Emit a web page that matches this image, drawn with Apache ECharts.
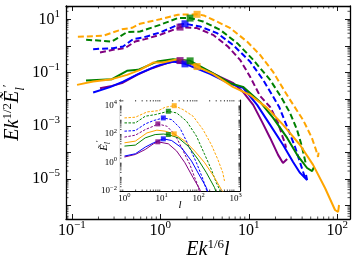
<!DOCTYPE html>
<html><head><meta charset="utf-8">
<script src="https://cdn.jsdelivr.net/npm/echarts@6/dist/echarts.min.js"></script>
<style>html,body{margin:0;padding:0;background:#fff}#c{width:357px;height:265px}</style>
</head><body><div id="c"></div>
<script>
// ---------- main panel data: x = E k^{1/6} l, y = E k^{1/2} E~'_l ----------
const mainOrangeDashed = [[0.117,2.2],[0.225,2.4],[0.369,4.2],[0.479,4.8],[0.59,6.8],[0.99,10],[1.58,14.9],[2.6,15.4],[3.1,14],[3.94,9.6],[6.1,4.8],[9.6,1.43],[13.4,0.46],[18.8,0.106],[27.8,0.0122],[41,0.00166],[51.6,3.5e-4],[57.4,1.24e-4],[60.5,6.8e-5],[62,1.24e-4]];
const mainGreenDashed = [[0.145,1.70],[0.225,1.56],[0.284,1.46],[0.42,3.3],[0.59,3.48],[0.99,6.2],[1.58,11.1],[2.17,11.1],[3.03,8.3],[4.73,4.03],[7.4,1.27],[11.2,0.30],[17.4,0.053],[23.1,0.0122],[29.2,0.00305],[35.1,7.0e-4],[39.9,1.6e-4],[44.3,3.4e-5]];
const mainBlueDashed = [[0.174,0.758],[0.292,0.826],[0.379,0.949],[0.492,1.80],[0.638,2.07],[0.99,3.19],[1.58,6.2],[1.90,6.8],[2.81,5.36],[4.37,3.03],[6.6,1.10],[10.3,0.26],[14.5,0.053],[18.8,0.0125],[22.0,0.0051],[27.1,9.1e-4],[33.3,1.6e-4],[38,4.1e-5],[43.2,1.1e-5]];
const mainPurpleDashed = [[0.208,0.565],[0.292,0.713],[0.399,0.826],[0.518,1.46],[0.671,1.80],[0.99,2.61],[1.58,4.67],[1.67,5.09],[2.6,4.67],[3.94,2.61],[5.8,0.95],[7.96,0.30],[10.3,0.071],[13.4,0.0131],[17.4,0.0051],[21.4,0.00128],[24.3,3.5e-4],[25.6,2.3e-4],[26.3,1.5e-4]];
const mainOrangeSolid = [[0.1145,0.0345],[0.174,0.0459],[0.284,0.0565],[0.42,0.082],[0.59,0.1265],[0.828,0.238],[1.07,0.238],[1.58,0.319],[2.17,0.232],[2.6,0.168],[3.94,0.0893],[6.6,0.029],[10.3,0.0145],[16.1,0.00471],[24.4,0.00108],[37.9,1.9e-4],[53.2,3.4e-5],[72.6,4.6e-6],[94.2,6.9e-7],[102,5.8e-7],[104.5,1.06e-6]];
const mainGreenSolid = [[0.1445,0.050],[0.284,0.0565],[0.42,0.116],[0.56,0.1265],[0.918,0.259],[1.39,0.319],[2.17,0.275],[3.64,0.109],[6.14,0.040],[8.6,0.029],[13.4,0.0079],[18.8,0.00198],[27.1,3.5e-4],[35.1,8.1e-5],[45.5,2.6e-5],[51.9,2.0e-5],[54.6,2.85e-5]];
const mainBlueSolid = [[0.174,0.0177],[0.270,0.0283],[0.379,0.0459],[0.59,0.0949],[0.918,0.1786],[1.39,0.259],[1.90,0.212],[3.64,0.0893],[6.14,0.0376],[8.6,0.0266],[12.4,0.0061],[17.4,0.00108],[24.4,1.9e-4],[31.6,4.4e-5],[37.9,1.7e-5],[45.5,9.2e-6],[44.3,1.43e-5]];
const mainPurpleSolid = [[0.208,0.0259],[0.284,0.0316],[0.369,0.040],[0.545,0.082],[0.806,0.146],[1.19,0.226],[1.67,0.282],[2.81,0.164],[4.73,0.0689],[6.6,0.041],[8.6,0.0188],[11.2,0.0061],[14.1,0.0014],[17.4,3.5e-4],[21.4,8.1e-5],[24.3,4.0e-5],[27.1,5.7e-5]];
// peak markers (main)
const mainMarkOrange = [[2.6,15.4],[2.6,0.168]];
const mainMarkGreen  = [[2.17,11.1],[2.17,0.275]];
const mainMarkBlue   = [[1.90,6.8],[1.90,0.212]];
const mainMarkPurple = [[1.67,5.09],[1.67,0.282]];

// ---------- inset data: x = l, y = E~'_l ----------
const insetOrangeDashed = [[1,1300],[1.97,1460],[4.05,3410],[8.26,4210],[12.5,7260],[22.1,9380],[38.5,4940],[71.3,1710],[132,199],[221,17.9],[332,1.62],[452,0.191],[502,0.0506]];
const insetGreenDashed = [[1,584],[1.97,584],[3.64,1710],[6.74,2210],[10.2,2900],[15.3,3820],[25.7,2900],[47.5,767],[87.9,69.2],[146.5,3.61],[221,0.325],[301,0.0385],[369,0.0131],[385,0.008]];
const insetBlueDashed = [[1,154],[1.97,170],[3.64,498],[6.07,845],[11.2,1300],[18.8,993],[31.4,262],[52.4,17.9],[87.9,0.953],[132,0.0654],[170,0.009]];
const insetPurpleDashed = [[1,58.9],[1.97,81.1],[3.64,199],[6.07,344],[7.96,498],[13.9,344],[23.1,89.3],[34.9,10.6],[58.2,0.726],[79.1,0.0859],[97,0.0227],[105,0.009]];
const insetOrangeSolid = [[1,23.6],[1.97,31],[4.05,117],[7.5,181],[12.5,154],[22.1,100],[42.8,31],[79.1,6.23],[146.5,0.953],[271,0.0859],[410,0.0131],[470,0.008]];
const insetGreenSolid = [[1,13.9],[1.97,16.3],[3.64,52.6],[6.74,89.3],[11.2,97],[15.3,89.3],[28.3,52.6],[52.4,13.9],[97,1.62],[163,0.191],[271,0.0173],[300,0.008]];
const insetBlueSolid = [[1,2.79],[1.97,4.04],[3.64,11.8],[6.07,23.6],[11.2,44.9],[18.8,34.1],[34.9,10.6],[64.6,1.25],[108,0.113],[163,0.0173],[180,0.008]];
const insetPurpleSolid = [[1,2.38],[1.97,3.61],[3.64,8.05],[6.07,20.1],[7.96,27.7],[15.3,20.1],[25.7,6.23],[42.8,0.953],[71.3,0.0859],[108,0.0131],[115,0.008]];
const insetMarkOrange = [[22.1,9380],[22.1,100]];
const insetMarkGreen  = [[15.3,3820],[15.3,89.3]];
const insetMarkBlue   = [[11.2,1300],[11.2,44.9]];
const insetMarkPurple = [[7.96,498],[7.96,27.7]];

// ---------- axes ----------
const mainXRange = [0.0859, 139];
const mainYRange = [3.16e-7, 31.6];
const insetXRange = [0.757, 1318];
const insetYRange = [0.01, 23400];
const mainXTickExps = [-1, 0, 1, 2];
const mainYTickExps = [1, -1, -3, -5];
const insetXTickExps = [0, 1, 2, 3];
const insetYTickExps = [4, 2, 0, -2];

const C = {orange:'#FFA500', green:'#008000', blue:'#0000FF', purple:'#800080'};
const SERIF = 'Liberation Serif';

function makeFmt(exps) {
  return function (v) {
    const l = Math.log10(v), e = Math.round(l);
    if (Math.abs(l - e) > 1e-6 || exps.indexOf(e) < 0) return '';
    return '{b|10}{s|' + (e < 0 ? '\u2212' + (-e) : e) + '}';
  };
}
const mainRich = {
  b: {fontFamily: SERIF, fontSize: 16, lineHeight: 16, color: '#000', verticalAlign: 'bottom'},
  s: {fontFamily: SERIF, fontSize: 11, lineHeight: 11, color: '#000', padding: [0,0,8,0], verticalAlign: 'bottom'}
};
const insetRich = {
  b: {fontFamily: SERIF, fontSize: 9, lineHeight: 9, color: '#000', verticalAlign: 'bottom'},
  s: {fontFamily: SERIF, fontSize: 6.5, lineHeight: 7, color: '#000', padding: [0,0,4,0], verticalAlign: 'bottom'}
};
const nameRich = {
  i: {fontFamily: SERIF, fontStyle: 'italic', fontSize: 20, lineHeight: 20, color: '#000', padding: [0,0,4,0], verticalAlign: 'bottom'},
  s: {fontFamily: SERIF, fontSize: 13, lineHeight: 13, color: '#000', padding: [0,0,13,0], verticalAlign: 'bottom'},
  sb: {fontFamily: SERIF, fontStyle: 'italic', fontSize: 13, lineHeight: 13, color: '#000', verticalAlign: 'bottom'}
};
const inNameRich = {
  i: {fontFamily: SERIF, fontStyle: 'italic', fontSize: 11, lineHeight: 11, color: '#000', padding: [0,0,2,0], verticalAlign: 'bottom'},
  s: {fontFamily: SERIF, fontSize: 8, lineHeight: 8, color: '#000', padding: [0,0,8,0], verticalAlign: 'bottom'},
  sb: {fontFamily: SERIF, fontStyle: 'italic', fontSize: 8, lineHeight: 8, color: '#000', verticalAlign: 'bottom'}
};

function logAxis(grid, pos, range, tickLen, lineW, label) {
  const a = {
    gridIndex: grid, type: 'log', logBase: 10, min: range[0], max: range[1], position: pos,
    axisLine: {show: true, onZero: false, lineStyle: {color: '#000', width: lineW}},
    axisTick: {show: true, inside: true, length: tickLen, lineStyle: {color: '#000', width: 0.9}},
    axisLabel: {show: false},
    splitLine: {show: false}, minorTick: {show: false},
    nameMoveOverlap: false
  };
  if (label) Object.assign(a, label);
  return a;
}

const xAxis = [
  logAxis(0, 'bottom', mainXRange, 5, 1.3, {
    axisLabel: {show: true, formatter: makeFmt(mainXTickExps), margin: 4, rich: mainRich},
    name: '{i|Ek}{s|1/6}{i|l}', nameLocation: 'middle', nameGap: 25, nameTextStyle: {rich: nameRich}
  }),
  logAxis(0, 'top', mainXRange, 5, 1.3),
  logAxis(1, 'bottom', insetXRange, 3, 1.2, {
    axisLabel: {show: true, formatter: makeFmt(insetXTickExps), margin: 3, rich: insetRich},
    name: '{i|l}', nameLocation: 'middle', nameGap: 11, nameTextStyle: {rich: inNameRich}
  }),
  logAxis(1, 'top', insetXRange, 3, 1.2)
];
const yAxis = [
  logAxis(0, 'left', mainYRange, 5, 1.3, {
    axisLabel: {show: true, formatter: makeFmt(mainYTickExps), margin: 6, rich: mainRich},
    name: '{i|Ek}{s|1/2}{i|\u1EBC}{sb|l}{s|\u2032}', nameLocation: 'middle', nameRotate: 90, nameGap: 39,
    nameTextStyle: {rich: nameRich}
  }),
  logAxis(0, 'right', mainYRange, 5, 1.3),
  logAxis(1, 'left', insetYRange, 3, 1.2, {
    axisLabel: {show: true, formatter: makeFmt(insetYTickExps), margin: 3, rich: insetRich},
    name: '{i|\u1EBC}{sb|l}{s|\u2032}', nameLocation: 'middle', nameRotate: 90, nameGap: 8,
    nameTextStyle: {rich: inNameRich}
  }),
  logAxis(1, 'right', insetYRange, 3, 1.2)
];

function minorValues(r) {
  const out = [];
  for (let e = Math.floor(Math.log10(r[0])); e <= Math.ceil(Math.log10(r[1])); e++)
    for (let m = 2; m <= 9; m++) { const v = m * Math.pow(10, e); if (v > r[0] && v < r[1]) out.push(v); }
  return out;
}
function minorTicks(xi, yi, range, isX, len) {
  return {
    type: 'custom', xAxisIndex: xi, yAxisIndex: yi, silent: true, z: 10, clip: false,
    data: minorValues(range).map(v => isX ? [v, 1] : [1, v]),
    renderItem: function (params, api) {
      const cs = params.coordSys;
      const p = api.coord([api.value(0), api.value(1)]);
      const st = {stroke: '#000', lineWidth: 0.7};
      if (isX) {
        const x = p[0];
        return {type: 'group', children: [
          {type: 'line', shape: {x1: x, y1: cs.y + cs.height, x2: x, y2: cs.y + cs.height - len}, style: st},
          {type: 'line', shape: {x1: x, y1: cs.y, x2: x, y2: cs.y + len}, style: st}
        ]};
      }
      const y = p[1];
      return {type: 'group', children: [
        {type: 'line', shape: {x1: cs.x, y1: y, x2: cs.x + len, y2: y}, style: st},
        {type: 'line', shape: {x1: cs.x + cs.width, y1: y, x2: cs.x + cs.width - len, y2: y}, style: st}
      ]};
    }
  };
}

function lineSeries(data, color, dashed, inset) {
  return {
    type: 'line', xAxisIndex: inset ? 2 : 0, yAxisIndex: inset ? 2 : 0, data: data,
    showSymbol: false, symbol: 'none', smooth: false, silent: true, z: 2,
    lineStyle: {color: color, width: inset ? 1 : 2, type: dashed ? (inset ? [2.5, 1.5] : [6, 3]) : 'solid'}
  };
}
function markSeries(data, color, inset) {
  return {
    type: 'scatter', xAxisIndex: inset ? 2 : 0, yAxisIndex: inset ? 2 : 0, data: data,
    symbol: 'rect', symbolSize: inset ? 5 : 7, itemStyle: {color: color}, silent: true, z: 4
  };
}

const series = [
  lineSeries(mainPurpleDashed, C.purple, true, false),
  lineSeries(mainBlueDashed, C.blue, true, false),
  lineSeries(mainGreenDashed, C.green, true, false),
  lineSeries(mainOrangeDashed, C.orange, true, false),
  lineSeries(mainPurpleSolid, C.purple, false, false),
  lineSeries(mainBlueSolid, C.blue, false, false),
  lineSeries(mainGreenSolid, C.green, false, false),
  lineSeries(mainOrangeSolid, C.orange, false, false),
  markSeries(mainMarkPurple, C.purple, false),
  markSeries(mainMarkBlue, C.blue, false),
  markSeries(mainMarkGreen, C.green, false),
  markSeries(mainMarkOrange, C.orange, false),
  lineSeries(insetPurpleDashed, C.purple, true, true),
  lineSeries(insetBlueDashed, C.blue, true, true),
  lineSeries(insetGreenDashed, C.green, true, true),
  lineSeries(insetOrangeDashed, C.orange, true, true),
  lineSeries(insetPurpleSolid, C.purple, false, true),
  lineSeries(insetBlueSolid, C.blue, false, true),
  lineSeries(insetGreenSolid, C.green, false, true),
  lineSeries(insetOrangeSolid, C.orange, false, true),
  markSeries(insetMarkPurple, C.purple, true),
  markSeries(insetMarkBlue, C.blue, true),
  markSeries(insetMarkGreen, C.green, true),
  markSeries(insetMarkOrange, C.orange, true),
  minorTicks(0, 0, mainXRange, true, 2.5),
  minorTicks(0, 0, mainYRange, false, 2.5),
  minorTicks(2, 2, insetXRange, true, 1.5),
  minorTicks(2, 2, insetYRange, false, 1.5)
];

const chart = echarts.init(document.getElementById('c'), null, {renderer: 'canvas'});
chart.setOption({
  animation: false,
  backgroundColor: '#fff',
  textStyle: {fontFamily: SERIF},
  grid: [
    {left: 66, top: 6, right: 7, bottom: 46, containLabel: false, outerBoundsMode: 'none'},
    {left: 120, top: 100, right: 117, bottom: 74, show: true, backgroundColor: '#fff', borderWidth: 0, z: 1, containLabel: false, outerBoundsMode: 'none'}
  ],
  xAxis: xAxis,
  yAxis: yAxis,
  series: series
});
</script></body></html>
